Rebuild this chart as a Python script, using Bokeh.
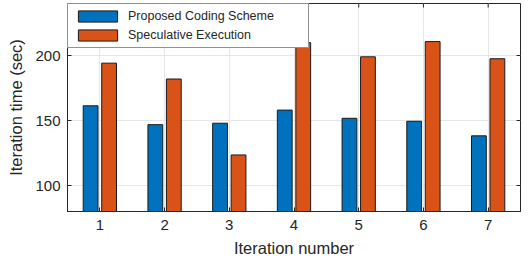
import math
from bokeh.plotting import figure
from bokeh.models import ColumnDataSource, FixedTicker, Range1d, Legend, LegendItem
from bokeh.transform import dodge
from bokeh.embed import file_html
from bokeh.resources import INLINE

iterations = [1, 2, 3, 4, 5, 6, 7]
proposed = [161.3, 146.8, 147.9, 158.0, 151.7, 149.4, 138.2]
speculative = [194.1, 181.9, 123.5, 209.9, 199.0, 210.7, 197.5]
y_ticks = [100, 150, 200]
series_names = ["Proposed Coding Scheme", "Speculative Execution"]

FONT = "Liberation Sans"
AX = "#262626"

src = ColumnDataSource(dict(x=iterations, a=proposed, b=speculative))

p = figure(width=521, height=259, output_backend="svg", toolbar_location=None,
           x_range=Range1d(0.5, 7.5), y_range=Range1d(80, 240),
           min_border_left=67, min_border_right=1, min_border_top=3, min_border_bottom=47)

p.outline_line_color = AX
p.outline_line_width = 1

r1 = p.vbar(x=dodge("x", -0.1429, range=p.x_range), top="a", bottom=80, width=0.2286, source=src,
            fill_color="#0072BD", line_color="#1a1a1a", line_width=1)
r2 = p.vbar(x=dodge("x", 0.1429, range=p.x_range), top="b", bottom=80, width=0.2286, source=src,
            fill_color="#D95319", line_color="#1a1a1a", line_width=1)

for ax in (p.xaxis[0], p.yaxis[0]):
    ax.axis_line_color = AX
    ax.major_tick_line_color = AX
    ax.major_tick_in = 4
    ax.major_tick_out = 0
    ax.minor_tick_line_color = None
    ax.major_label_text_font = FONT
    ax.major_label_text_font_size = "15px"
    ax.major_label_text_color = AX
    ax.axis_label_text_font = FONT
    ax.axis_label_text_font_size = "16.5px"
    ax.axis_label_text_font_style = "normal"
    ax.axis_label_text_color = AX

p.xaxis.ticker = FixedTicker(ticks=iterations)
p.yaxis.ticker = FixedTicker(ticks=y_ticks)
p.xaxis.axis_label = "Iteration number"
p.yaxis.axis_label = "Iteration time (sec)"
p.xaxis.major_label_standoff = 8
p.xaxis.axis_label_standoff = 6
p.yaxis.major_label_standoff = 7
p.yaxis.axis_label_standoff = 7

# box ticks on top and right edges (inward), drawn as dash markers on the frame edge
p.scatter(x=iterations, y=[p.y_range.end] * len(iterations), marker="dash", size=8,
          angle=math.pi / 2, line_color=AX, line_width=1)
p.scatter(x=[p.x_range.end] * len(y_ticks), y=y_ticks, marker="dash", size=8,
          line_color=AX, line_width=1)

p.xgrid.grid_line_color = "#e6e6e6"
p.ygrid.grid_line_color = "#e6e6e6"
p.xgrid.ticker = FixedTicker(ticks=iterations)
p.ygrid.ticker = FixedTicker(ticks=y_ticks)

legend = Legend(items=[LegendItem(label=series_names[0], renderers=[r1]),
                       LegendItem(label=series_names[1], renderers=[r2])],
                location="top_left")
legend.margin = 0
legend.padding = 5
legend.spacing = 5
legend.glyph_width = 49
legend.glyph_height = 14
legend.label_height = 14
legend.label_width = 175
legend.label_standoff = 6
legend.label_text_font = FONT
legend.label_text_font_size = "12.5px"
legend.label_text_color = AX
legend.border_line_color = AX
legend.border_line_width = 1
legend.background_fill_alpha = 1
p.add_layout(legend)

open("out.html", "w").write(file_html(p, INLINE))
